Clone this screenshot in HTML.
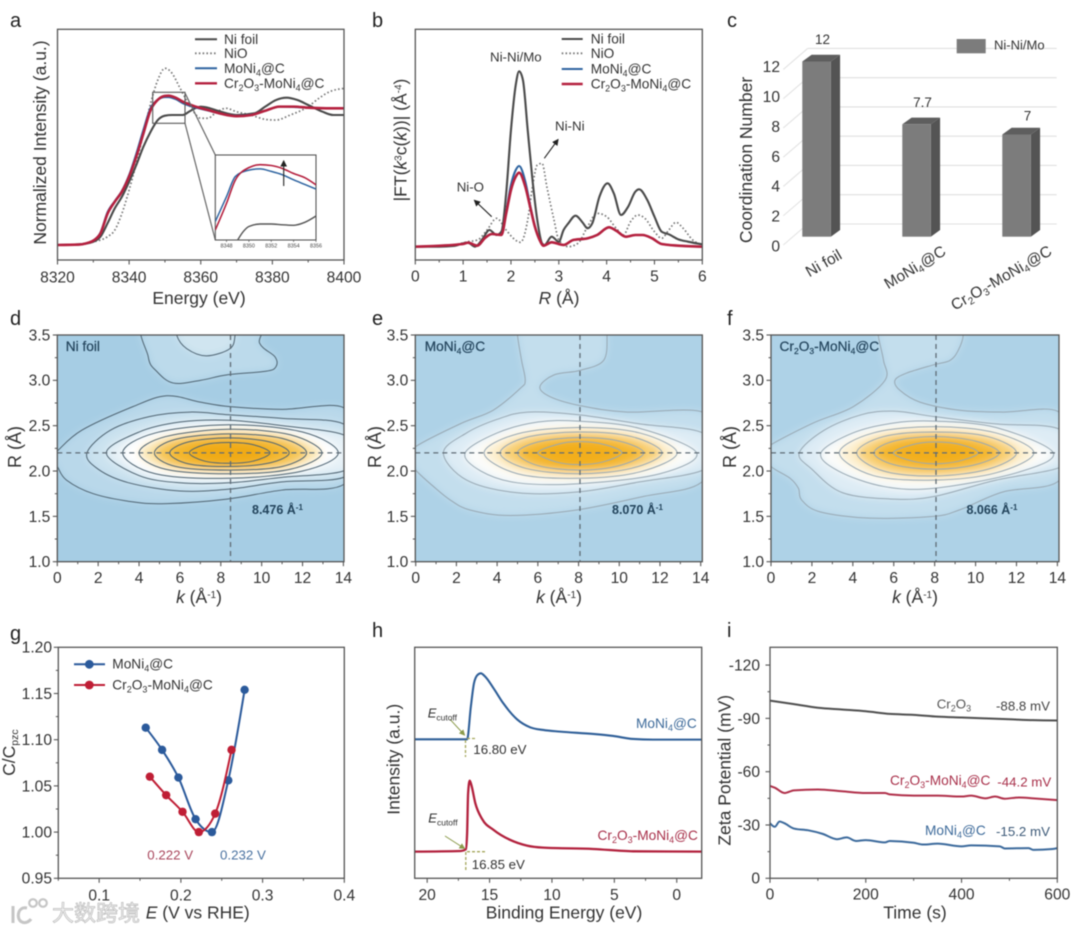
<!DOCTYPE html>
<html lang="en">
<head>
<meta charset="utf-8">
<title>Ni K-edge and surface characterisation panels</title>
<style>
html,body{margin:0;padding:0;background:#fff;}
body{width:1080px;height:934px;overflow:hidden;}
#figure{display:block;filter:blur(0.55px);}
text{font-family:"Liberation Sans","Noto Sans CJK SC",sans-serif;fill:#333;}
.letter{font-size:20px;fill:#222;}
.title{font-size:17.5px;}
.leg{font-size:13.7px;fill:#333;}
.note{font-size:13.3px;}
.maptitle{font-size:13.7px;fill:#23445c;stroke:#23445c;stroke-width:0.2;}
.maplabel{font-size:12.5px;fill:#23445c;font-weight:bold;}
.tiny{font-size:5.4px;fill:#444;}
</style>
</head>
<body>
<svg id="figure" xmlns="http://www.w3.org/2000/svg" width="1080" height="934" viewBox="0 0 1080 934">
<defs>
<clipPath id="clip-d"><rect x="57.3" y="335" width="286.7" height="226.7"/></clipPath>
<clipPath id="clip-e"><rect x="415.3" y="335" width="287" height="226.7"/></clipPath>
<clipPath id="clip-f"><rect x="771" y="335" width="288" height="226.7"/></clipPath>
<clipPath id="clip-inset"><rect x="215.3" y="155" width="100.7" height="85"/></clipPath>
<filter id="soft" x="-10%" y="-10%" width="120%" height="120%"><feGaussianBlur stdDeviation="4"/></filter>
<marker id="arrowhead" markerWidth="7" markerHeight="7" refX="5" refY="3" orient="auto"><path d="M0,0 L6,3 L0,6 Z" fill="#222"/></marker>
<marker id="arrowhead-olive" markerWidth="7" markerHeight="7" refX="5" refY="3" orient="auto"><path d="M0,0 L6,3 L0,6 Z" fill="#8a9a4a"/></marker>
</defs>

<g id="panel-a">
  <text class="letter" x="10" y="27">a</text>
  <g id="marks-a"></g>
  <text class="title" transform="translate(46,142.5) rotate(-90)" text-anchor="middle">Normalized Intensity (a.u.)</text>
  <text class="title" x="199" y="304" text-anchor="middle">Energy (eV)</text>
  <g>
    <line x1="195" x2="217" y1="39.3" y2="39.3" stroke="#4a4a4a" stroke-width="2"/>
    <text class="leg" x="224" y="43.8">Ni foil</text>
    <line x1="195" x2="217" y1="53.3" y2="53.3" stroke="#777" stroke-width="1.8" stroke-dasharray="1.6,2.2"/>
    <text class="leg" x="224" y="58">NiO</text>
    <line x1="195" x2="217" y1="68.3" y2="68.3" stroke="#2f64a0" stroke-width="2"/>
    <text class="leg" x="224" y="73">MoNi<tspan dy="3" font-size="9">4</tspan><tspan dy="-3">@C</tspan></text>
    <line x1="195" x2="217" y1="83.3" y2="83.3" stroke="#b5213f" stroke-width="2.4"/>
    <text class="leg" x="224" y="88">Cr<tspan dy="3" font-size="9">2</tspan><tspan dy="-3">O</tspan><tspan dy="3" font-size="9">3</tspan><tspan dy="-3">-MoNi</tspan><tspan dy="3" font-size="9">4</tspan><tspan dy="-3">@C</tspan></text>
  </g>
  <g>
    <rect x="152.7" y="92.3" width="32.3" height="31" fill="none" stroke="#555" stroke-width="1.1"/>
    <line x1="185" y1="93" x2="215.3" y2="155" stroke="#666" stroke-width="1.2"/>
    <line x1="185" y1="123.3" x2="215.3" y2="240" stroke="#666" stroke-width="1.2"/>
  </g>
  <rect x="215.3" y="155" width="100.7" height="85" fill="#fff" stroke="#555" stroke-width="1.1"/>
  <g id="marks-inset"></g>
  <line x1="283.7" y1="186" x2="283.7" y2="161" stroke="#222" stroke-width="1.1" marker-end="url(#arrowhead)"/>
</g>

<g id="panel-b">
  <text class="letter" x="372" y="27">b</text>
  <g id="marks-b"></g>
  <text class="title" transform="translate(406.7,140) rotate(-90)" text-anchor="middle">|FT(<tspan font-style="italic">k</tspan><tspan dy="-5" font-size="10">3</tspan><tspan dy="5">c(</tspan><tspan font-style="italic">k</tspan>))| (Å<tspan dy="-5" font-size="10">-4</tspan><tspan dy="5">)</tspan></text>
  <text class="title" x="559" y="304" text-anchor="middle"><tspan font-style="italic">R</tspan> (Å)</text>
  <g>
    <line x1="561.7" x2="582.7" y1="39" y2="39" stroke="#4a4a4a" stroke-width="2"/>
    <text class="leg" x="590.7" y="43.5">Ni foil</text>
    <line x1="561.7" x2="582.7" y1="53.3" y2="53.3" stroke="#777" stroke-width="1.8" stroke-dasharray="1.6,2.2"/>
    <text class="leg" x="590.7" y="58">NiO</text>
    <line x1="561.7" x2="582.7" y1="69" y2="69" stroke="#2f64a0" stroke-width="2"/>
    <text class="leg" x="590.7" y="73.5">MoNi<tspan dy="3" font-size="9">4</tspan><tspan dy="-3">@C</tspan></text>
    <line x1="561.7" x2="582.7" y1="84" y2="84" stroke="#b5213f" stroke-width="2.4"/>
    <text class="leg" x="590.7" y="88.5">Cr<tspan dy="3" font-size="9">2</tspan><tspan dy="-3">O</tspan><tspan dy="3" font-size="9">3</tspan><tspan dy="-3">-MoNi</tspan><tspan dy="3" font-size="9">4</tspan><tspan dy="-3">@C</tspan></text>
  </g>
  <text class="note" x="490" y="61.7">Ni-Ni/Mo</text>
  <text class="note" x="555" y="130.7">Ni-Ni</text>
  <text class="note" x="456.7" y="191.7">Ni-O</text>
  <line x1="544.3" y1="158.3" x2="558" y2="139.6" stroke="#222" stroke-width="1.1" marker-end="url(#arrowhead)"/>
  <line x1="491.7" y1="216.7" x2="474.5" y2="200.4" stroke="#222" stroke-width="1.1" marker-end="url(#arrowhead)"/>
</g>

<g id="panel-c">
  <text class="letter" x="727" y="27">c</text>
  <g id="marks-c"></g>
  <text class="title" transform="translate(752,160) rotate(-90)" text-anchor="middle">Coordination Number</text>
  <rect x="956.7" y="39" width="29" height="14.3" fill="#7c7c7c"/>
  <text x="994" y="49.3" font-size="13">Ni-Ni/Mo</text>
  <text transform="translate(843,258) rotate(-30)" text-anchor="end" font-size="15.5">Ni foil</text>
  <text transform="translate(947,254) rotate(-31)" text-anchor="end" font-size="15.5">MoNi<tspan dy="3" font-size="10">4</tspan><tspan dy="-3">@C</tspan></text>
  <text transform="translate(1053,254) rotate(-30)" text-anchor="end" font-size="15.5">Cr<tspan dy="3" font-size="10">2</tspan><tspan dy="-3">O</tspan><tspan dy="3" font-size="10">3</tspan><tspan dy="-3">-MoNi</tspan><tspan dy="3" font-size="10">4</tspan><tspan dy="-3">@C</tspan></text>
</g>

<g id="panel-d">
  <text class="letter" x="10" y="325">d</text>
  <g id="marks-d"></g>
  <text class="maptitle" x="65.7" y="351">Ni foil</text>
  <text class="maplabel" x="252" y="514">8.476 Å<tspan dy="-4" font-size="8">-1</tspan></text>
  <text class="title" transform="translate(21,447) rotate(-90)" text-anchor="middle" style="font-size:18px">R (Å)</text>
  <text class="title" x="199" y="603" text-anchor="middle"><tspan font-style="italic">k</tspan> (Å<tspan dy="-5" font-size="10">-1</tspan><tspan dy="5">)</tspan></text>
</g>

<g id="panel-e">
  <text class="letter" x="372" y="325">e</text>
  <g id="marks-e"></g>
  <text class="maptitle" x="424.7" y="351">MoNi<tspan dy="3" font-size="8.5">4</tspan><tspan dy="-3">@C</tspan></text>
  <text class="maplabel" x="612" y="514">8.070 Å<tspan dy="-4" font-size="8">-1</tspan></text>
  <text class="title" transform="translate(381,447) rotate(-90)" text-anchor="middle" style="font-size:18px">R (Å)</text>
  <text class="title" x="559" y="603" text-anchor="middle"><tspan font-style="italic">k</tspan> (Å<tspan dy="-5" font-size="10">-1</tspan><tspan dy="5">)</tspan></text>
</g>

<g id="panel-f">
  <text class="letter" x="727" y="325">f</text>
  <g id="marks-f"></g>
  <text class="maptitle" x="779.5" y="351">Cr<tspan dy="3" font-size="8.5">2</tspan><tspan dy="-3">O</tspan><tspan dy="3" font-size="8.5">3</tspan><tspan dy="-3">-MoNi</tspan><tspan dy="3" font-size="8.5">4</tspan><tspan dy="-3">@C</tspan></text>
  <text class="maplabel" x="966.5" y="514">8.066 Å<tspan dy="-4" font-size="8">-1</tspan></text>
  <text class="title" transform="translate(736,447) rotate(-90)" text-anchor="middle" style="font-size:18px">R (Å)</text>
  <text class="title" x="915" y="603" text-anchor="middle"><tspan font-style="italic">k</tspan> (Å<tspan dy="-5" font-size="10">-1</tspan><tspan dy="5">)</tspan></text>
</g>

<g id="panel-g">
  <text class="letter" x="10" y="640">g</text>
  <g id="marks-g"></g>
  <text class="title" transform="translate(15,752.6) rotate(-90)" text-anchor="middle">C/C<tspan dy="3" font-size="10.5">pzc</tspan></text>
  <text class="title" x="145.7" y="918.3"><tspan font-style="italic">E</tspan> (V vs RHE)</text>
  <g>
    <line x1="74" x2="105" y1="664.3" y2="664.3" stroke="#2b5a9b" stroke-width="2"/>
    <circle cx="89.3" cy="664.3" r="4.4" fill="#2b5a9b"/>
    <text class="leg" x="112.3" y="668.6">MoNi<tspan dy="3" font-size="9">4</tspan><tspan dy="-3">@C</tspan></text>
    <line x1="74" x2="105" y1="685" y2="685" stroke="#bf1e35" stroke-width="2"/>
    <circle cx="89.3" cy="685" r="4.4" fill="#bf1e35"/>
    <text class="leg" x="112.3" y="689.3">Cr<tspan dy="3" font-size="9">2</tspan><tspan dy="-3">O</tspan><tspan dy="3" font-size="9">3</tspan><tspan dy="-3">-MoNi</tspan><tspan dy="3" font-size="9">4</tspan><tspan dy="-3">@C</tspan></text>
  </g>
  <text class="note" x="147.3" y="859.3" style="fill:#a8465c">0.222 V</text>
  <text class="note" x="220" y="859.3" style="fill:#4a72a0">0.232 V</text>
</g>

<g id="panel-h">
  <text class="letter" x="372" y="637">h</text>
  <g id="marks-h"></g>
  <text class="title" transform="translate(399.3,759.3) rotate(-90)" text-anchor="middle">Intensity (a.u.)</text>
  <text class="title" x="564" y="918.3" text-anchor="middle">Binding Energy (eV)</text>
  <text class="note" x="636" y="728" text-anchor="start" style="fill:#3d6a9a;font-size:13.7px">MoNi<tspan dy="3" font-size="9">4</tspan><tspan dy="-3">@C</tspan></text>
  <text class="note" x="597.5" y="840" style="fill:#a8304a;font-size:13.7px">Cr<tspan dy="3" font-size="9">2</tspan><tspan dy="-3">O</tspan><tspan dy="3" font-size="9">3</tspan><tspan dy="-3">-MoNi</tspan><tspan dy="3" font-size="9">4</tspan><tspan dy="-3">@C</tspan></text>
  <g>
    <line x1="467" x2="476" y1="738.5" y2="738.5" stroke="#a3a55a" stroke-width="1.3" stroke-dasharray="3,2"/>
    <line x1="465.5" x2="465.5" y1="740" y2="757" stroke="#a3a55a" stroke-width="1.3" stroke-dasharray="3,2"/>
    <line x1="450" y1="719.3" x2="464.5" y2="735" stroke="#8a9a4a" stroke-width="1" marker-end="url(#arrowhead-olive)"/>
    <text x="427.7" y="717.7" font-size="13"><tspan font-style="italic">E</tspan><tspan dy="3" font-size="8.5">cutoff</tspan></text>
    <text class="note" x="473.3" y="754">16.80 eV</text>
  </g>
  <g>
    <line x1="467" x2="485" y1="851.7" y2="851.7" stroke="#a3a55a" stroke-width="1.3" stroke-dasharray="3,2"/>
    <line x1="465.8" x2="465.8" y1="852" y2="871" stroke="#a3a55a" stroke-width="1.3" stroke-dasharray="3,2"/>
    <line x1="445" y1="836" x2="464.5" y2="848.5" stroke="#8a9a4a" stroke-width="1" marker-end="url(#arrowhead-olive)"/>
    <text x="428.3" y="822.7" font-size="13"><tspan font-style="italic">E</tspan><tspan dy="3" font-size="8.5">cutoff</tspan></text>
    <text class="note" x="471.7" y="869">16.85 eV</text>
  </g>
</g>

<g id="panel-i">
  <text class="letter" x="727" y="637">i</text>
  <g id="marks-i"></g>
  <text class="title" transform="translate(730.7,770.3) rotate(-90)" text-anchor="middle">Zeta Potential (mV)</text>
  <text class="title" x="915" y="918.3" text-anchor="middle">Time (s)</text>
  <text class="note" x="936.7" y="708.3" style="fill:#555">Cr<tspan dy="3" font-size="9">2</tspan><tspan dy="-3">O</tspan><tspan dy="3" font-size="9">3</tspan></text>
  <text class="note" x="996" y="710.7" style="fill:#444">-88.8 mV</text>
  <text class="note" x="890" y="785" style="fill:#a8304a;font-size:13.7px">Cr<tspan dy="3" font-size="9">2</tspan><tspan dy="-3">O</tspan><tspan dy="3" font-size="9">3</tspan><tspan dy="-3">-MoNi</tspan><tspan dy="3" font-size="9">4</tspan><tspan dy="-3">@C</tspan></text>
  <text class="note" x="997.3" y="786.7" style="fill:#a8304a">-44.2 mV</text>
  <text class="note" x="925" y="835" style="fill:#3d6a9a;font-size:13.7px">MoNi<tspan dy="3" font-size="9">4</tspan><tspan dy="-3">@C</tspan></text>
  <text class="note" x="996" y="836" style="fill:#3d5a78">-15.2 mV</text>
</g>

<g>
  <g fill="none" stroke="#c6c6c6" stroke-width="3">
    <path d="M13,906 L13,923"/>
    <path d="M27,908 C17,906 16,920 22,922 C25,923.5 29,922 31,919"/>
    <circle cx="33" cy="903" r="3.8" stroke-width="2.2"/>
    <circle cx="43" cy="903" r="3.8" stroke-width="2.2"/>
  </g>
  <text x="52" y="921" font-size="22" style="fill:#f1f1f1;stroke:#bdbdbd;stroke-width:0.7">大数跨境</text>
</g>
</svg>

<script>
/* ---------- panel a : XANES ---------- */
const aEnergy = [8320,8326,8328,8330,8332,8334,8336,8338,8340,8342,8344,8346,8348,8350,8351,8353,8355,8358,8362,8366,8370,8374,8378,8382,8386,8390,8395,8400];
const aCr2O3MoNi4 = [0,.003,.012,.032,.085,.23,.316,.39,.5,.645,.815,.985,1.06,1.088,1.09,1.075,1.046,1.015,.985,.956,.94,.948,.98,1.01,1.01,1.002,.998,.998];
const aMoNi4 = [0,.003,.012,.032,.09,.24,.32,.395,.51,.665,.84,1.0,1.06,1.08,1.08,1.065,1.035,1.008,.982,.956,.942,.95,.98,1.01,1.008,1.002,.998,.998];
const aFoilEnergy = [8320,8326,8330,8332,8334,8336,8338,8340,8342,8344,8346,8348,8350,8352,8355,8357,8360,8362,8365,8370,8375,8378,8381,8384,8387,8390,8394,8397,8400];
const aFoil = [0,.005,.024,.061,.16,.268,.353,.462,.584,.718,.827,.912,.944,.949,.949,.978,1.01,1.002,.978,.949,.961,1.01,1.058,1.075,1.058,1.022,.973,.949,.949];
const aNiOEnergy = [8320,8326,8330,8332,8334,8336,8338,8340,8342,8344,8346,8348,8350,8352,8354,8356,8358,8360,8362,8364,8367,8370,8374,8378,8381,8385,8390,8393,8396,8400];
const aNiO = [0,.002,.024,.036,.061,.109,.231,.401,.596,.815,1.034,1.204,1.29,1.253,1.156,1.058,.973,.925,.925,.961,.998,.973,.949,.917,.912,.949,1.01,1.071,1.119,1.143];
const aMajorTicks = [8320,8340,8360,8380,8400];
const aMinorTicks = [8330,8350,8370,8390];

/* inset of panel a */
const insetEnergy = [8347,8348,8348.8,8350,8351,8352,8353,8354,8355,8356];
const insetCr2O3MoNi4 = [.935,.998,1.054,1.083,1.09,1.088,1.081,1.069,1.059,1.042];
const insetMoNi4 = [.955,1.014,1.062,1.077,1.08,1.074,1.066,1.054,1.043,1.032];
const insetFoilEnergy = [8349,8349.5,8350,8351,8352,8353,8354,8355,8356];
const insetFoil = [.911,.931,.943,.949,.949,.947,.946,.953,.968];
const insetTicks = [8348,8350,8352,8354,8356];

/* ---------- panel b : FT-EXAFS ---------- */
const bFoilR = [0,.5,.8,1,1.1,1.25,1.4,1.55,1.7,1.8,1.9,2,2.1,2.17,2.25,2.35,2.45,2.55,2.65,2.7,2.85,3,3.1,3.2,3.35,3.5,3.6,3.7,3.85,4.02,4.15,4.3,4.45,4.6,4.68,4.85,5,5.15,5.3,5.5,5.7,6];
const bFoil = [0,0,.02,.1,.12,0,.22,.5,.35,.45,1.6,3.5,4.85,5.26,5,3.5,2,.8,.1,.05,.3,.15,.5,.7,.93,.72,.55,.7,1.5,1.9,1.6,.95,1.2,1.65,1.72,1.4,.9,.45,.37,.22,.15,.07];
const bNiOR = [0,.8,1.1,1.3,1.5,1.7,1.9,2.05,2.2,2.35,2.45,2.55,2.65,2.75,2.9,3,3.2,3.4,3.6,3.8,4,4.2,4.35,4.5,4.65,4.8,5,5.15,5.3,5.45,5.6,5.8,6];
const bNiO = [0,.05,.15,.2,.5,.85,.5,.25,.13,.8,1.8,2.45,2.5,1.8,.8,.2,0,.1,.6,1,.9,.55,.35,.75,.95,.85,.45,.25,.5,.73,.55,.2,.05];
const bSampleR = [0,1,1.1,1.3,1.45,1.6,1.8,1.9,2,2.1,2.17,2.3,2.4,2.5,2.6,2.68,2.85,3.1,3.3,3.6,3.8,4.05,4.2,4.4,4.6,4.75,4.95,5.15,5.5,6];
const bMoNi4 = [0,.08,.12,.03,.25,.38,.35,1.05,1.85,2.3,2.42,1.95,1.25,.62,.2,.03,.13,.05,.2,.25,.35,.58,.48,.3,.35,.35,.25,.08,.03,0];
const bCr2O3MoNi4 = [0,.08,.12,.03,.25,.38,.35,1,1.7,2.1,2.22,1.8,1.2,.6,.2,.03,.13,.05,.2,.25,.35,.58,.48,.3,.35,.35,.25,.08,.03,0];
const bMajorTicks = [0,1,2,3,4,5,6];
const bMinorTicks = [.5,1.5,2.5,3.5,4.5,5.5];

/* ---------- panel c : coordination numbers ---------- */
const cCategories = ['Ni foil','MoNi4@C','Cr2O3-MoNi4@C'];
const cValues = [12,7.7,7];
const cGridTicks = [0,2,4,6,8,10,12];

/* ---------- panels d / e / f : wavelet contours, each contour is [k, R] pairs, outermost first ---------- */
const dContours = [
 [[-.3,2.15],[0,2.22],[1.2,2.45],[3.7,2.71],[5.35,2.83],[7,2.76],[8.45,2.71],[11,2.68],[14,2.7],[14.6,2.3],[14,1.85],[11,1.79],[8.3,1.69],[5.35,1.64],[3.7,1.66],[1.76,1.75],[.45,1.9],[0,2.05]],
 [[1.45,2.2],[2.6,2.45],[4.5,2.6],[6.5,2.65],[8.4,2.62],[11,2.58],[14,2.52],[14.6,2.2],[14,1.93],[11,1.88],[8.4,1.8],[6,1.78],[3.5,1.87],[2,2.02]],
 [[2.4,2.2],[4,2.43],[6,2.54],[8.4,2.56],[11,2.5],[14,2.4],[14.5,2.2],[14,2],[11,1.93],[8.4,1.87],[6,1.87],[4,1.95]],
 [[3.2,2.2],[4.8,2.42],[8.4,2.51],[12,2.43],[13.75,2.2],[12,2],[8.4,1.92],[4.8,1.97]],
 [[4,2.2],[5.3,2.38],[8.4,2.46],[11.4,2.4],[12.95,2.2],[11.4,2.02],[8.4,1.97],[5.3,2.02]],
 [[4.75,2.2],[5.8,2.35],[8.4,2.41],[11,2.36],[12.2,2.2],[11,2.05],[8.4,2.01],[5.8,2.05]],
 [[5.5,2.2],[6.4,2.32],[8.4,2.365],[10.4,2.32],[11.35,2.2],[10.4,2.09],[8.4,2.05],[6.4,2.08]],
 [[6.46,2.2],[7.2,2.29],[8.4,2.315],[9.6,2.29],[10.41,2.2],[9.6,2.11],[8.4,2.085],[7.2,2.11]],
 [[4.45,3.7],[4.45,3.26],[4.86,3.1],[5.68,2.97],[7,3],[8.3,3.06],[10.2,3.1],[10.7,3.15],[10.65,3.26],[9.9,3.41],[9.75,3.7]],
 [[5.84,3.7],[5.84,3.5],[6.33,3.35],[7.3,3.27],[8.45,3.35],[8.7,3.5],[8.7,3.7]]
];
const eContours = [
 [[-.4,2.15],[0,2.27],[2.18,2.52],[3.8,2.67],[5.13,2.91],[5.38,3],[5.2,3.22],[5,3.5],[5,3.7],[9.3,3.7],[9.4,3.5],[9.23,3.22],[8.08,3.11],[6.8,3.06],[6.1,2.93],[6.6,2.82],[8.1,2.72],[10.4,2.65],[14.1,2.65],[14.6,2.3],[14,1.87],[11.2,1.72],[7.9,1.57],[4.64,1.51],[2.67,1.57],[1.7,1.68],[.87,1.83],[0,2.01]],
 [[1.36,2.2],[2.5,2.42],[4,2.57],[5.5,2.65],[8,2.62],[11,2.52],[14,2.43],[14.6,2.2],[14,2],[11,1.88],[8,1.77],[5,1.76],[2.5,1.9]],
 [[2.43,2.2],[4,2.42],[6,2.54],[8,2.55],[11,2.47],[13.8,2.2],[12,1.97],[8,1.86],[5,1.87],[3.2,2]],
 [[3.36,2.2],[5,2.41],[8,2.48],[11,2.42],[12.84,2.2],[11,1.99],[8,1.92],[5,1.97]],
 [[4.15,2.2],[5.4,2.37],[8,2.43],[10.6,2.38],[12.1,2.2],[10.6,2.03],[8,1.97],[5.4,2.03]],
 [[5,2.2],[6,2.32],[8,2.37],[10,2.33],[11.2,2.2],[10,2.06],[8,2.01],[6,2.06]],
 [[6,2.2],[6.9,2.29],[8,2.325],[9.3,2.29],[10.13,2.2],[9.2,2.1],[8,2.07],[6.9,2.1]]
];
const fContours = [
 [[-.4,2.2],[0,2.29],[2.07,2.53],[4.02,2.71],[5.57,3],[5.5,3.22],[5.24,3.5],[5.24,3.7],[9.3,3.7],[9.4,3.5],[9.15,3.33],[8.75,3.22],[7.93,3.17],[6.63,3.08],[6.06,3],[6.3,2.89],[7.28,2.76],[9.23,2.67],[11.35,2.65],[14,2.66],[14.6,2.3],[14,1.88],[11.35,1.77],[9.2,1.57],[7.93,1.5],[4.84,1.48],[2.4,1.55],[1.5,1.68],[1.34,1.81],[.93,1.92],[0,2.05]],
 [[1.38,2.2],[2.6,2.45],[4.4,2.62],[6,2.66],[8,2.6],[11,2.52],[14,2.47],[14.6,2.2],[14,2.03],[11,1.9],[8,1.72],[6,1.69],[3.5,1.76],[2,2.02]],
 [[2.44,2.2],[4,2.42],[6,2.53],[8,2.55],[11,2.48],[13.8,2.2],[12,1.98],[8,1.81],[5.5,1.83],[3.3,2]],
 [[3.34,2.2],[5,2.42],[8,2.49],[11,2.42],[12.85,2.2],[11,1.98],[8,1.9],[5,1.95]],
 [[4.19,2.2],[5.5,2.38],[8,2.43],[10.6,2.38],[12,2.2],[10.6,2.02],[8,1.945],[5.5,2]],
 [[5.03,2.2],[6,2.33],[8,2.38],[10,2.33],[11.16,2.2],[10,2.07],[8,2.02],[6,2.07]],
 [[5.98,2.2],[6.9,2.29],[8,2.32],[9.3,2.29],[10.13,2.2],[9.2,2.11],[8,2.08],[6.9,2.11]]
];
const dFills = ['#b9d8ea','#cbe2ef','#e6f1f7','#ffffff','#fbe7b4','#f6c654','#f3b52a','#f0aa14','#bcdaeb','#d0e5f0'];
const eFills = ['#c3deed','#deecf5','#fbfcfa','#fdf0d0','#f8d074','#f4b72e','#f2ae1c'];
const fFills = ['#c3deed','#deecf5','#fbfcfa','#fdf0d0','#f8d074','#f4b72e','#f2ae1c'];
const dPeakK = 8.476;
const ePeakK = 8.070;
const fPeakK = 8.066;
const peakR = 2.2;
const mapKTicks = [0,2,4,6,8,10,12,14];
const mapKMinor = [1,3,5,7,9,11,13];
const mapRTicks = [1,1.5,2,2.5,3,3.5];
const mapRMinor = [1.25,1.75,2.25,2.75,3.25];

/* ---------- panel g : C/Cpzc ---------- */
const gMoNi4E = [.157,.177,.197,.218,.238,.258,.278];
const gMoNi4C = [1.113,1.089,1.059,1.014,1.0,1.056,1.154];
const gCrE = [.162,.182,.202,.222,.242,.262];
const gCrC = [1.06,1.04,1.022,1.0,1.02,1.089];
const gXTicks = [.1,.2,.3,.4];
const gXMinor = [.05,.15,.25,.35];
const gYTicks = [.95,1,1.05,1.1,1.15,1.2];
const gYMinor = [.975,1.025,1.075,1.125,1.175];

/* ---------- panel h : UPS ---------- */
const hMoNi4BE = [21,17,16.8,16.5,16.25,15.97,15.7,15.35,14.68,13.9,12.8,11.75,10.7,9.35,6.7,5.1,3.5,1.9,-2];
const hMoNi4 = [4.42,4.42,4.42,5.4,6.1,6.35,6.4,6.3,5.95,5.5,5.02,4.78,4.7,4.65,4.58,4.52,4.43,4.41,4.41];
const hCrBE = [21,17.3,16.9,16.8,16.72,16.59,16.46,16.14,15.6,14.67,13.34,12,10.7,6.7,3.5,-2];
const hCr = [1.05,1.07,1.12,1.6,2.8,3.18,3.05,2.5,2.03,1.7,1.4,1.23,1.17,1.13,1.06,1.05];
const hTicks = [20,15,10,5,0];
const hMinor = [17.5,12.5,7.5,2.5];

/* ---------- panel i : zeta potential ---------- */
const iCr2O3Time = [0,50,100,150,200,250,300,350,400,450,500,550,600];
const iCr2O3 = [100,98,96,95,94,92.5,92,91,90.5,90,89.5,89,88.8];
const iCrMoTime = [0,10,30,50,100,150,200,240,250,300,350,400,420,450,470,490,520,550,600];
const iCrMo = [52,51,48,49.5,50,49,48,48,47.2,46.5,46.5,46,46.5,45,46,44.8,45.5,45,44];
const iMoTime = [0,10,20,30,50,80,110,140,160,180,200,240,250,300,320,350,400,420,480,490,540,550,590,600];
const iMo = [31,29,32,31,28,27,25,22,23,21,21.5,20.2,21,20,19,19.5,18,18.5,18,16.8,17,16,16.5,17];
const iXTicks = [0,200,400,600];
const iXMinor = [100,300,500];
const iYTicks = [0,30,60,90,120];
const iYLabels = ['0','-30','-60','-90','-120'];
const iYMinor = [15,45,75,105];

/* ---------- helpers ---------- */
const NS = 'http://www.w3.org/2000/svg';
function linear(d0, d1, r0, r1) { return v => r0 + (v - d0) * (r1 - r0) / (d1 - d0); }
function addEl(parent, tag, attrs, name) {
  const el = document.createElementNS(NS, tag);
  for (const key in attrs) el.setAttribute(key, attrs[key]);
  
  
  parent.appendChild(el);
  return el;
}
function monoPath(pts) {
  const n = pts.length, t = new Array(n).fill(0);
  const slope = i => (pts[i + 1][1] - pts[i][1]) / (pts[i + 1][0] - pts[i][0]);
  for (let i = 1; i < n - 1; i++) {
    const h0 = pts[i][0] - pts[i - 1][0], h1 = pts[i + 1][0] - pts[i][0];
    const s0 = slope(i - 1), s1 = slope(i);
    const p = (s0 * h1 + s1 * h0) / (h0 + h1);
    t[i] = (Math.sign(s0) + Math.sign(s1)) * Math.min(Math.abs(s0), Math.abs(s1), 0.5 * Math.abs(p));
  }
  t[0] = (3 * slope(0) - t[1]) / 2;
  t[n - 1] = (3 * slope(n - 2) - t[n - 2]) / 2;
  let d = 'M' + pts[0][0].toFixed(2) + ',' + pts[0][1].toFixed(2);
  for (let i = 0; i < n - 1; i++) {
    const h = (pts[i + 1][0] - pts[i][0]) / 3;
    d += 'C' + (pts[i][0] + h).toFixed(2) + ',' + (pts[i][1] + h * t[i]).toFixed(2) + ' ' +
      (pts[i + 1][0] - h).toFixed(2) + ',' + (pts[i + 1][1] - h * t[i + 1]).toFixed(2) + ' ' +
      pts[i + 1][0].toFixed(2) + ',' + pts[i + 1][1].toFixed(2);
  }
  return d;
}
function closedPath(pts) {
  const n = pts.length;
  let d = 'M' + pts[0][0].toFixed(2) + ',' + pts[0][1].toFixed(2);
  for (let i = 0; i < n; i++) {
    const p0 = pts[(i - 1 + n) % n], p1 = pts[i], p2 = pts[(i + 1) % n], p3 = pts[(i + 2) % n];
    d += 'C' + (p1[0] + (p2[0] - p0[0]) / 6).toFixed(2) + ',' + (p1[1] + (p2[1] - p0[1]) / 6).toFixed(2) + ' ' +
      (p2[0] - (p3[0] - p1[0]) / 6).toFixed(2) + ',' + (p2[1] - (p3[1] - p1[1]) / 6).toFixed(2) + ' ' +
      p2[0].toFixed(2) + ',' + p2[1].toFixed(2);
  }
  return d + 'Z';
}
function drawSeries(g, xs, ys, sx, sy, style, name) {
  const pts = xs.map((x, i) => [sx(x), sy(ys[i])]);
  return addEl(g, 'path', Object.assign({ d: monoPath(pts), fill: 'none', 'stroke-linejoin': 'round' }, style), name);
}
function frame(g, x0, y0, x1, y1, name) {
  addEl(g, 'rect', { x: x0, y: y0, width: x1 - x0, height: y1 - y0, fill: 'none', stroke: '#555', 'stroke-width': 1.3 }, name);
}
function xTicks(g, sx, axisY, major, minor, labels, labelY, fontSize, prefix) {
  major.forEach(v => {
    addEl(g, 'line', { x1: sx(v), x2: sx(v), y1: axisY, y2: axisY + 4.5, stroke: '#555', 'stroke-width': 1.1 }, prefix + '-x-tick');
  });
  minor.forEach(v => {
    addEl(g, 'line', { x1: sx(v), x2: sx(v), y1: axisY, y2: axisY + 2.5, stroke: '#555', 'stroke-width': 1 }, prefix + '-x-minor-tick');
  });
  major.forEach((v, i) => {
    const t = addEl(g, 'text', { x: sx(v), y: labelY, 'text-anchor': 'middle', 'font-size': fontSize }, prefix + '-x-tick-label');
    t.textContent = labels[i];
  });
}
function yTicks(g, sy, axisX, major, minor, labels, labelX, fontSize, prefix) {
  major.forEach(v => {
    addEl(g, 'line', { x1: axisX - 4.5, x2: axisX, y1: sy(v), y2: sy(v), stroke: '#555', 'stroke-width': 1.1 }, prefix + '-y-tick');
  });
  minor.forEach(v => {
    addEl(g, 'line', { x1: axisX - 2.5, x2: axisX, y1: sy(v), y2: sy(v), stroke: '#555', 'stroke-width': 1 }, prefix + '-y-minor-tick');
  });
  major.forEach((v, i) => {
    const t = addEl(g, 'text', { x: labelX, y: sy(v) + 5.4, 'text-anchor': 'end', 'font-size': fontSize }, prefix + '-y-tick-label');
    t.textContent = labels[i];
  });
}

const DARK = { stroke: '#4a4a4a', 'stroke-width': 2.1 };
const DOTTED = { stroke: '#7a7a7a', 'stroke-width': 1.7, 'stroke-dasharray': '1.6,2.2' };
const BLUE = { stroke: '#2f64a0', 'stroke-width': 2.1 };
const RED = { stroke: '#b5213f', 'stroke-width': 2.6 };

/* ---------- draw panel a ---------- */
(function () {
  const g = document.getElementById('marks-a');
  const sx = linear(8320, 8400, 57.5, 344);
  const sy = linear(0, 1, 245, 108);
  drawSeries(g, aNiOEnergy, aNiO, sx, sy, DOTTED, 'series-nio');
  drawSeries(g, aFoilEnergy, aFoil, sx, sy, DARK, 'series-ni-foil');
  drawSeries(g, aEnergy, aMoNi4, sx, sy, BLUE, 'series-moni4');
  drawSeries(g, aEnergy, aCr2O3MoNi4, sx, sy, RED, 'series-cr2o3-moni4');
  frame(g, 57.5, 29.3, 344, 260, 'plot-frame-a');
  xTicks(g, sx, 260, aMajorTicks, aMinorTicks, aMajorTicks.map(String), 282.7, 15.6, 'a');

  const inset = document.getElementById('marks-inset');
  const ix = linear(8347, 8356, 215.3, 316);
  const iy = linear(.911, 1.113, 240, 155);
  const clip = addEl(inset, 'g', { 'clip-path': 'url(#clip-inset)' }, 'inset-series-group');
  drawSeries(clip, insetFoilEnergy, insetFoil, ix, iy, { stroke: '#555', 'stroke-width': 1.4 }, 'inset-series-ni-foil');
  drawSeries(clip, insetEnergy, insetMoNi4, ix, iy, { stroke: '#2f64a0', 'stroke-width': 1.5 }, 'inset-series-moni4');
  drawSeries(clip, insetEnergy, insetCr2O3MoNi4, ix, iy, { stroke: '#b5213f', 'stroke-width': 1.6 }, 'inset-series-cr2o3-moni4');
  insetTicks.forEach(v => {
    addEl(inset, 'line', { x1: ix(v), x2: ix(v), y1: 240, y2: 242, stroke: '#555', 'stroke-width': .7 }, 'inset-x-tick');
    const t = addEl(inset, 'text', { x: ix(v), y: 247.5, 'text-anchor': 'middle', class: 'tiny' }, 'inset-x-tick-label');
    t.textContent = String(v);
  });
})();

/* ---------- draw panel b ---------- */
(function () {
  const g = document.getElementById('marks-b');
  const sx = linear(0, 6, 415.3, 702.3);
  const sy = linear(0, 1, 246.67, 213.33);
  drawSeries(g, bNiOR, bNiO, sx, sy, DOTTED, 'series-nio');
  drawSeries(g, bFoilR, bFoil, sx, sy, DARK, 'series-ni-foil');
  drawSeries(g, bSampleR, bMoNi4, sx, sy, BLUE, 'series-moni4');
  drawSeries(g, bSampleR, bCr2O3MoNi4, sx, sy, RED, 'series-cr2o3-moni4');
  frame(g, 415.3, 29.3, 702.3, 260, 'plot-frame-b');
  xTicks(g, sx, 260, bMajorTicks, bMinorTicks, bMajorTicks.map(String), 281.7, 15.6, 'b');
})();

/* ---------- draw panel c ---------- */
(function () {
  const g = document.getElementById('marks-c');
  const frontY = linear(0, 12, 236.7, 61.5);
  const backY = linear(0, 12, 224, 48.4);
  const floorY = linear(0, 12, 245, 69.4);
  const labelY = linear(0, 12, 251.5, 72.1);
  const barX = i => 802.3 + i * 100;
  const barW = 28.5, depthX = 9.3, depthY = 6.7;
  cGridTicks.forEach(v => {
    addEl(g, 'line', { x1: 783.3, y1: floorY(v), x2: 807.7, y2: backY(v), stroke: '#e3e3e3', 'stroke-width': 1.1 }, 'side-grid-line');
    addEl(g, 'line', { x1: 807.7, y1: backY(v), x2: 1056.7, y2: backY(v), stroke: '#e0e0e0', 'stroke-width': 1.1 }, 'back-grid-line');
    const t = addEl(g, 'text', { x: 780, y: labelY(v), 'text-anchor': 'end', 'font-size': 15.6 }, 'c-y-tick-label');
    t.textContent = String(v);
  });
  cValues.forEach((v, i) => {
    const x = barX(i), top = frontY(v), bot = frontY(0);
    addEl(g, 'polygon', { points: [[x + barW, top], [x + barW + depthX, top - depthY], [x + barW + depthX, bot - depthY], [x + barW, bot]].join(' '), fill: '#545454' }, 'bar-side-' + cCategories[i].toLowerCase().replace(/[^a-z0-9]+/g, '-'));
    addEl(g, 'polygon', { points: [[x, top], [x + depthX, top - depthY], [x + barW + depthX, top - depthY], [x + barW, top]].join(' '), fill: '#5e5e5e' }, 'bar-top-' + cCategories[i].toLowerCase().replace(/[^a-z0-9]+/g, '-'));
    addEl(g, 'rect', { x: x, y: top, width: barW, height: bot - top, fill: '#7c7c7c' }, 'bar-front-' + cCategories[i].toLowerCase().replace(/[^a-z0-9]+/g, '-'));
    const t = addEl(g, 'text', { x: x + barW / 2 + (i === 2 ? 11 : 6), y: top - (i === 2 ? 14 : 17.5), 'text-anchor': 'middle', 'font-size': 13.5 }, 'bar-value-label');
    t.textContent = String(v);
  });
})();

/* ---------- draw panels d / e / f ---------- */
function drawMap(id, x0, x1, contours, fills, strokeColor, background, peakK, kLeft, kRight, prefix) {
  const g = document.getElementById('marks-' + id);
  const y0 = 335, y1 = 561.7;
  const sx = linear(0, 14, kLeft, kRight);
  const sy = linear(1, 3.5, y1, y0);
  const clip = addEl(g, 'g', { 'clip-path': 'url(#clip-' + id + ')' }, prefix + '-map-area');
  addEl(clip, 'rect', { x: x0, y: y0, width: x1 - x0, height: y1 - y0, fill: background }, prefix + '-map-background');
  const soft = addEl(clip, 'g', { filter: 'url(#soft)' }, prefix + '-intensity-fill');
  contours.forEach((c, i) => {
    const pts = c.map(p => [sx(p[0]), sy(p[1])]);
    addEl(soft, 'path', { d: closedPath(pts), fill: fills[i] }, prefix + '-intensity-band');
  });
  contours.forEach(c => {
    const pts = c.map(p => [sx(p[0]), sy(p[1])]);
    addEl(clip, 'path', { d: closedPath(pts), fill: 'none', stroke: strokeColor, 'stroke-width': 1 }, prefix + '-contour-line');
  });
  addEl(clip, 'line', { x1: x0, x2: x1, y1: sy(peakR), y2: sy(peakR), stroke: '#5f6c76', 'stroke-width': 1.3, 'stroke-dasharray': '5,4' }, prefix + '-peak-r-line');
  addEl(clip, 'line', { x1: sx(peakK), x2: sx(peakK), y1: y0, y2: y1, stroke: '#5f6c76', 'stroke-width': 1.3, 'stroke-dasharray': '5,4' }, prefix + '-peak-k-line');
  frame(g, x0, y0, x1, y1, prefix + '-plot-frame');
  xTicks(g, sx, y1, mapKTicks, mapKMinor, mapKTicks.map(String), 583, 15.6, prefix);
  yTicks(g, sy, x0, mapRTicks, mapRMinor, mapRTicks.map(v => v.toFixed(1)), x0 - 7, 15.6, prefix);
}
drawMap('d', 57.3, 344, dContours, dFills, '#4f6472', '#a6cde4', dPeakK, 57.3, 343.4, 'map-d');
drawMap('e', 415.3, 702.3, eContours, eFills, '#98a8b3', '#aed2e7', ePeakK, 415.7, 700.7, 'map-e');
drawMap('f', 771, 1059, fContours, fFills, '#98a8b3', '#aed2e7', fPeakK, 771, 1057.4, 'map-f');

/* ---------- draw panel g ---------- */
(function () {
  const g = document.getElementById('marks-g');
  const sx = linear(.05, .4, 58.3, 344.3);
  const sy = linear(.95, 1.2, 878.3, 647.3);
  const blue = { stroke: '#2b5a9b', 'stroke-width': 2 };
  const red = { stroke: '#bf1e35', 'stroke-width': 2 };
  drawSeries(g, gMoNi4E, gMoNi4C, sx, sy, blue, 'series-moni4');
  gMoNi4E.forEach((x, i) => {
    addEl(g, 'circle', { cx: sx(x), cy: sy(gMoNi4C[i]), r: 4.2, fill: '#2b5a9b' }, 'point-moni4');
  });
  drawSeries(g, gCrE, gCrC, sx, sy, red, 'series-cr2o3-moni4');
  gCrE.forEach((x, i) => {
    addEl(g, 'circle', { cx: sx(x), cy: sy(gCrC[i]), r: 4.2, fill: '#bf1e35' }, 'point-cr2o3-moni4');
  });
  frame(g, 58.3, 647.3, 344.3, 878.3, 'plot-frame-g');
  xTicks(g, sx, 878.3, gXTicks, gXMinor, gXTicks.map(v => v.toFixed(1)), 900.5, 15.6, 'g');
  yTicks(g, sy, 58.3, gYTicks, gYMinor, gYTicks.map(v => v.toFixed(2)), 52, 15.6, 'g');
})();

/* ---------- draw panel h ---------- */
(function () {
  const g = document.getElementById('marks-h');
  const sx = linear(21, -2, 414.7, 701.7);
  const sy = linear(.25, 7.18, 878.3, 647.3);
  drawSeries(g, hMoNi4BE, hMoNi4, sx, sy, { stroke: '#2f5f98', 'stroke-width': 2.1 }, 'series-moni4');
  drawSeries(g, hCrBE, hCr, sx, sy, { stroke: '#b2213d', 'stroke-width': 2.3 }, 'series-cr2o3-moni4');
  frame(g, 414.7, 647.3, 701.7, 878.3, 'plot-frame-h');
  xTicks(g, sx, 878.3, hTicks, hMinor, hTicks.map(String), 900, 15.6, 'h');
})();

/* ---------- draw panel i ---------- */
(function () {
  const g = document.getElementById('marks-i');
  const sx = linear(0, 600, 770, 1057.3);
  const sy = linear(0, 130, 878.3, 647.3);
  drawSeries(g, iCr2O3Time, iCr2O3, sx, sy, { stroke: '#4f4f4f', 'stroke-width': 2 }, 'series-cr2o3');
  drawSeries(g, iCrMoTime, iCrMo, sx, sy, { stroke: '#b0304a', 'stroke-width': 2 }, 'series-cr2o3-moni4');
  drawSeries(g, iMoTime, iMo, sx, sy, { stroke: '#3c6a9c', 'stroke-width': 2 }, 'series-moni4');
  frame(g, 770, 647.3, 1057.3, 878.3, 'plot-frame-i');
  xTicks(g, sx, 878.3, iXTicks, iXMinor, iXTicks.map(String), 899.5, 15.6, 'i');
  yTicks(g, sy, 770, iYTicks, iYMinor, iYLabels, 760, 15.6, 'i');
})();
</script>
</body>
</html>
